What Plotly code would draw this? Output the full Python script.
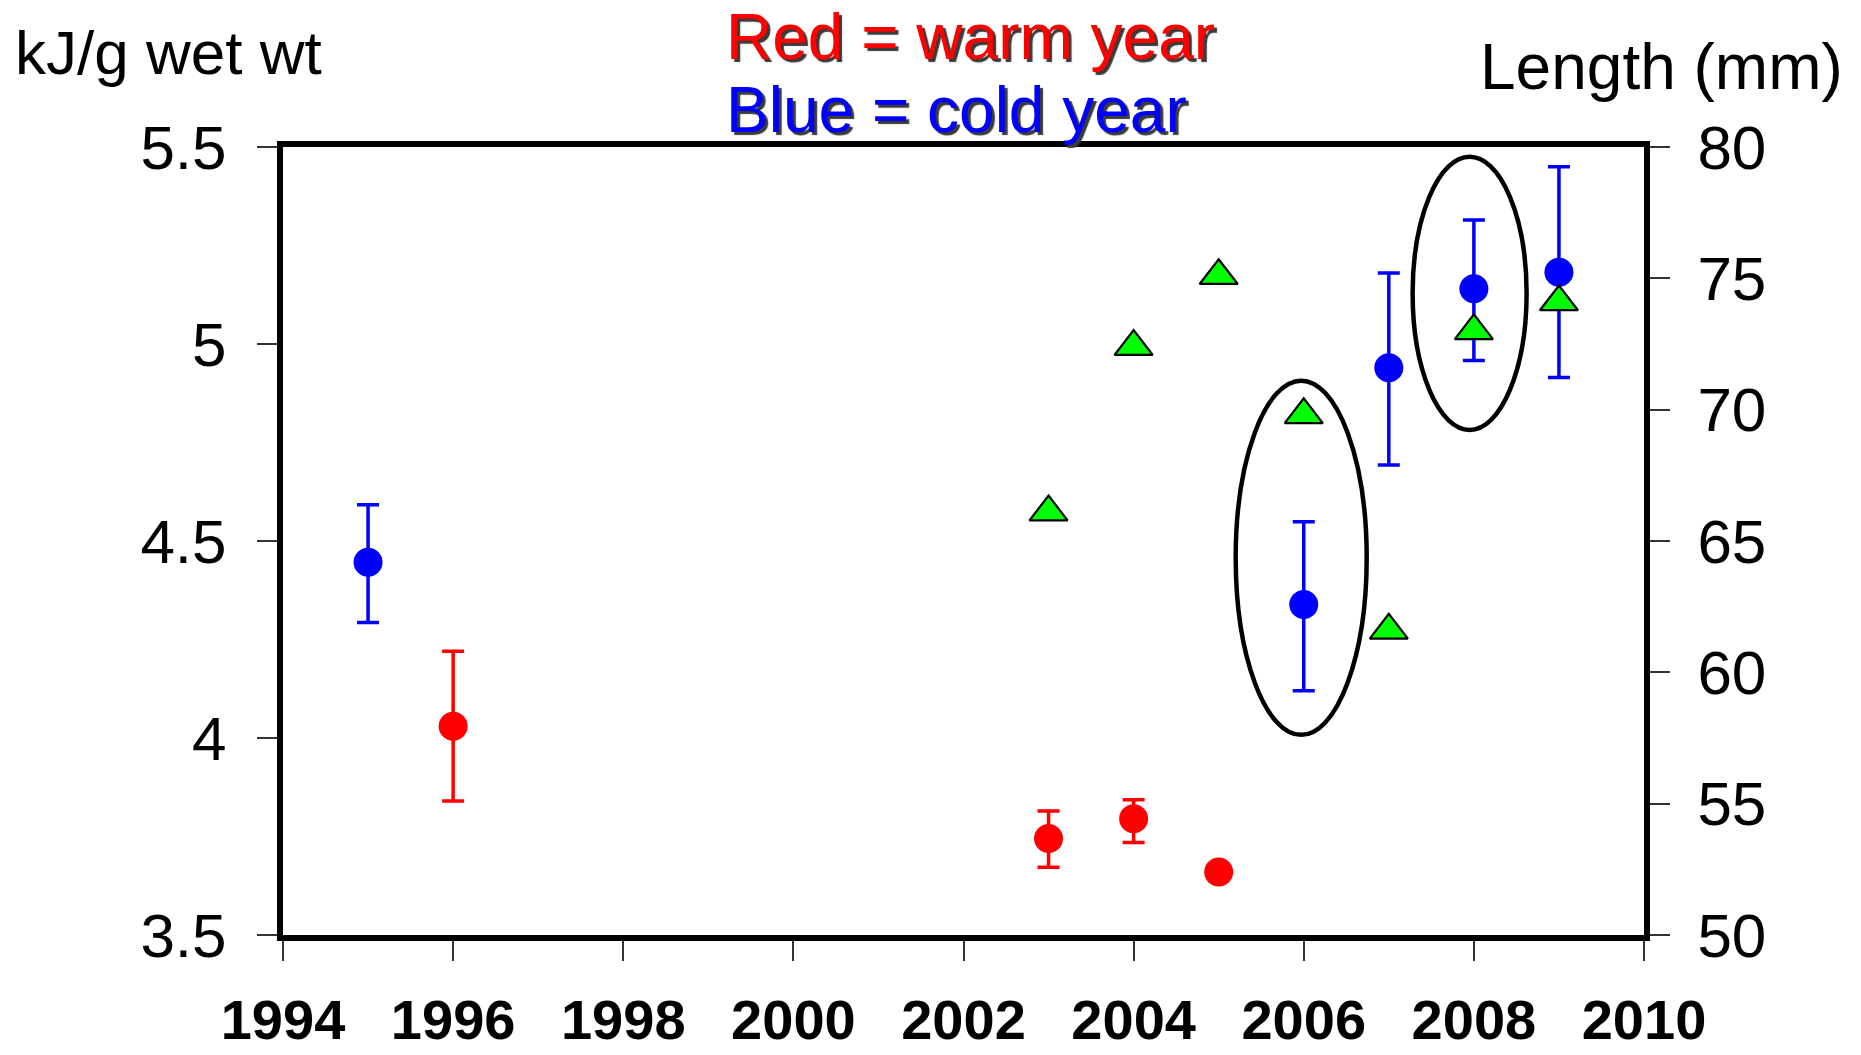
import plotly.graph_objects as go

# Energy density (kJ/g wet wt) by year, split into warm and cold years
warm_years = [1996, 2003, 2004, 2005]
warm_energy = [4.03, 3.745, 3.795, 3.66]
warm_err_plus = [0.19, 0.07, 0.048, None]
warm_err_minus = [0.19, 0.073, 0.06, None]

cold_years = [1995, 2006, 2007, 2008, 2009]
cold_energy = [4.446, 4.339, 4.94, 5.14, 5.182]
cold_err_plus = [0.146, 0.21, 0.24, 0.175, 0.268]
cold_err_minus = [0.153, 0.219, 0.247, 0.182, 0.267]

# Mean length (mm), right axis
length_years = [2003, 2004, 2005, 2006, 2007, 2008, 2009]
length_mm = [66.1, 72.4, 75.1, 69.8, 61.6, 73.0, 74.1]

# Years ringed on the chart: (centre year, half-width in years, energy span)
highlights = [(2005.97, 0.77, 4.008, 4.907), (2007.95, 0.67, 4.782, 5.475)]

x_ticks = list(range(1994, 2011, 2))
left_ticks = [3.5, 4, 4.5, 5, 5.5]
left_tick_text = ["3.5", "4", "4.5", "5", "5.5"]
right_ticks = [50, 55, 60, 65, 70, 75, 80]

FONT = "Liberation Sans, Arial, Helvetica, sans-serif"
W, H = 1861, 1055
L, R, T, B = 283, 217, 147, 120
PW, PH = W - L - R, H - T - B


def px_x(p):
    return (p - L) / PW


def px_y(p):
    return (H - B - p) / PH


fig = go.Figure()

fig.add_trace(go.Scatter(
    x=warm_years, y=warm_energy, mode="markers",
    marker=dict(symbol="circle", size=29, color="#ff0000"),
    error_y=dict(type="data", symmetric=False, array=warm_err_plus,
                 arrayminus=warm_err_minus, color="#ff0000",
                 thickness=3.5, width=11),
    showlegend=False, yaxis="y",
))
fig.add_trace(go.Scatter(
    x=cold_years, y=cold_energy, mode="markers",
    marker=dict(symbol="circle", size=29, color="#0000ff"),
    error_y=dict(type="data", symmetric=False, array=cold_err_plus,
                 arrayminus=cold_err_minus, color="#0000ff",
                 thickness=3.5, width=11),
    showlegend=False, yaxis="y",
))
fig.add_trace(go.Scatter(
    x=length_years, y=length_mm, mode="markers",
    marker=dict(symbol="triangle-up", size=33, color="#00ff00",
                line=dict(color="#000000", width=2.2)),
    showlegend=False, yaxis="y2",
))

for cx, hw, y0, y1 in highlights:
    fig.add_shape(type="circle", xref="x", yref="y",
                  x0=cx - hw, x1=cx + hw, y0=y0, y1=y1,
                  line=dict(color="#000000", width=4.5))

tick_font = dict(family=FONT, size=62, color="#000000")

fig.update_layout(
    width=W, height=H,
    margin=dict(l=L, r=R, t=T, b=B, pad=0, autoexpand=False),
    paper_bgcolor="#ffffff", plot_bgcolor="#ffffff",
    xaxis=dict(
        range=[1994, 2010], tickvals=x_ticks, automargin=False,
        ticks="outside", ticklen=20, tickwidth=1.5, tickcolor="#333333",
        showline=True, linewidth=6, linecolor="#000000", mirror=True,
        showgrid=False, zeroline=False,
        tickfont=dict(family=FONT, size=56, color="#000000", weight="bold"),
        ticklabelstandoff=11,
    ),
    yaxis=dict(
        range=[3.5, 5.5], tickvals=left_ticks, ticktext=left_tick_text,
        automargin=False,
        ticks="outside", ticklen=20, tickwidth=1.5, tickcolor="#333333",
        showline=True, linewidth=6, linecolor="#000000",
        showgrid=False, zeroline=False,
        tickfont=tick_font, ticklabelstandoff=18,
    ),
    yaxis2=dict(
        range=[50, 80], tickvals=right_ticks, overlaying="y", side="right",
        automargin=False,
        ticks="outside", ticklen=20, tickwidth=1.5, tickcolor="#333333",
        showline=True, linewidth=6, linecolor="#000000",
        showgrid=False, zeroline=False,
        tickfont=tick_font, ticklabelstandoff=15,
    ),
    yaxis3=dict(
        range=[50, 80], tickvals=right_ticks, overlaying="y", side="right",
        automargin=False,
        ticks="inside", ticklen=20, tickwidth=1.5, tickcolor="#333333",
        showticklabels=False, showline=False,
        showgrid=False, zeroline=False,
    ),
)

fig.add_annotation(text="kJ/g wet wt", xref="paper", yref="paper",
                   x=px_x(13), y=px_y(52), xanchor="left", yanchor="middle",
                   showarrow=False,
                   font=dict(family=FONT, size=62, color="#000000"))
fig.add_annotation(text="Length (mm)", xref="paper", yref="paper",
                   x=px_x(1478), y=px_y(67), xanchor="left", yanchor="middle",
                   showarrow=False,
                   font=dict(family=FONT, size=64, color="#000000"))
fig.add_annotation(text="Red = warm year", xref="paper", yref="paper",
                   x=px_x(724), y=px_y(37), xanchor="left", yanchor="middle",
                   showarrow=False,
                   font=dict(family=FONT, size=64, color="#ff0000",
                             shadow="3px 3px 1px #3a3a3a"))
fig.add_annotation(text="Blue = cold year", xref="paper", yref="paper",
                   x=px_x(724), y=px_y(110), xanchor="left", yanchor="middle",
                   showarrow=False,
                   font=dict(family=FONT, size=64, color="#0000ff",
                             shadow="3px 3px 1px #3a3a3a"))

fig.write_html("out.html")
